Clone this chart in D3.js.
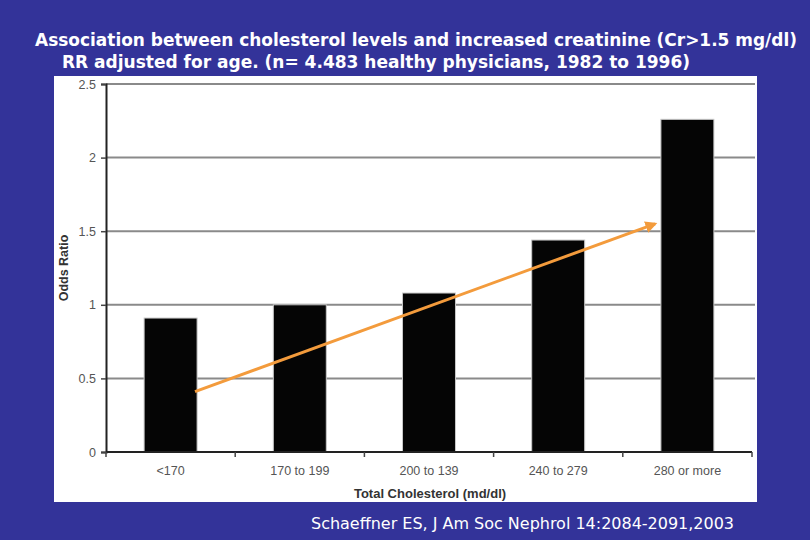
<!DOCTYPE html>
<html>
<head>
<meta charset="utf-8">
<script src="https://cdn.jsdelivr.net/npm/d3@7"></script>
<style>
  html, body { margin: 0; padding: 0; background: #333399; }
  svg { display: block; }
</style>
</head>
<body>
<div id="chart"></div>
<script>
// chart data
var categories = ["<170", "170 to 199", "200 to 139", "240 to 279", "280 or more"];
var oddsRatios = [0.91, 1.0, 1.08, 1.44, 2.26];
var yTicks = [0, 0.5, 1, 1.5, 2, 2.5];
// trend arrow: category, position inside band (0..1 of bandwidth), value
var trendCats = ["<170", "280 or more"];
var trendPos = [0.96, -0.11];
var trendVals = [0.41, 1.55];

var titleLines = [
    "Association between cholesterol levels and increased creatinine (Cr>1.5 mg/dl)",
    "RR adjusted for age. (n= 4.483 healthy physicians, 1982 to 1996)"
];
var sourceText = "Schaeffner ES, J Am Soc Nephrol 14:2084-2091,2003";

var W = 810, H = 540;
var svg = d3.select("#chart").append("svg")
    .attr("width", W)
    .attr("height", H);

svg.append("rect").attr("width", W).attr("height", H).attr("fill", "#333399");

// titles
svg.append("text")
    .attr("x", 35).attr("y", 46)
    .attr("textLength", 762).attr("lengthAdjust", "spacingAndGlyphs")
    .style("font-family", "'DejaVu Sans Condensed', 'DejaVu Sans', sans-serif")
    .style("font-weight", "bold")
    .style("font-size", "18px")
    .attr("fill", "#fff")
    .text(titleLines[0]);
svg.append("text")
    .attr("x", 62).attr("y", 68)
    .attr("textLength", 628).attr("lengthAdjust", "spacingAndGlyphs")
    .style("font-family", "'DejaVu Sans Condensed', 'DejaVu Sans', sans-serif")
    .style("font-weight", "bold")
    .style("font-size", "18px")
    .attr("fill", "#fff")
    .text(titleLines[1]);

// white chart panel
svg.append("rect")
    .attr("x", 54).attr("y", 76)
    .attr("width", 703).attr("height", 426)
    .attr("fill", "#fff");

var plot = {left: 106, right: 752, top: 84, bottom: 452};

var x = d3.scaleBand()
    .domain(categories)
    .range([plot.left, plot.right])
    .paddingInner(0.59)
    .paddingOuter(0.295);

var y = d3.scaleLinear()
    .domain([0, 2.5])
    .range([plot.bottom, plot.top]);

// gridlines
svg.append("g")
    .selectAll("line")
    .data(yTicks.filter(function(d) { return d > 0; }))
    .enter()
    .append("line")
        .attr("x1", plot.left).attr("x2", 755)
        .attr("y1", function(d) { return y(d); })
        .attr("y2", function(d) { return y(d); })
        .attr("stroke", "#8a8a8a")
        .attr("stroke-width", 2);

// bars
svg.append("g")
    .selectAll("rect")
    .data(oddsRatios)
    .enter()
    .append("rect")
        .attr("x", function(d, i) { return x(categories[i]); })
        .attr("y", function(d) { return y(d); })
        .attr("width", x.bandwidth())
        .attr("height", function(d) { return y(0) - y(d); })
        .attr("fill", "#050505")
        .attr("stroke", "#c8c8c8")
        .attr("stroke-width", 1);

// y axis
var yAxis = svg.append("g")
    .attr("transform", "translate(" + plot.left + ",0)")
    .call(d3.axisLeft(y).tickValues(yTicks).tickFormat(d3.format("")).tickSize(5).tickPadding(5));
yAxis.select(".domain").attr("stroke", "#222").attr("stroke-width", 2);
yAxis.selectAll(".tick line").attr("stroke", "#444").attr("stroke-width", 1.5);
yAxis.selectAll(".tick text")
    .attr("fill", "#555")
    .style("font-family", "'Liberation Sans', Arial, sans-serif")
    .style("font-size", "12.5px");

// x axis (category boundary ticks)
var xAxisG = svg.append("g");
xAxisG.append("line")
    .attr("x1", plot.left).attr("x2", plot.right)
    .attr("y1", plot.bottom).attr("y2", plot.bottom)
    .attr("stroke", "#222").attr("stroke-width", 2);
var step = x.step();
var bounds = categories.map(function(c) { return x(c) - x.paddingInner() * step / 2; });
bounds.push(bounds[bounds.length - 1] + step);
xAxisG.selectAll("line.bt")
    .data(bounds)
    .enter()
    .append("line")
        .attr("class", "bt")
        .attr("x1", function(d) { return d; }).attr("x2", function(d) { return d; })
        .attr("y1", plot.bottom).attr("y2", plot.bottom + 5)
        .attr("stroke", "#444").attr("stroke-width", 1.5);
xAxisG.selectAll("text")
    .data(categories)
    .enter()
    .append("text")
        .attr("x", function(d) { return x(d) + x.bandwidth() / 2; })
        .attr("y", 475)
        .attr("text-anchor", "middle")
        .attr("fill", "#555")
        .style("font-family", "'Liberation Sans', Arial, sans-serif")
        .style("font-size", "12.5px")
        .text(function(d) { return d; });

// axis titles
svg.append("text")
    .attr("x", 430).attr("y", 498)
    .attr("text-anchor", "middle")
    .attr("fill", "#333")
    .style("font-family", "'Liberation Sans', Arial, sans-serif")
    .style("font-weight", "bold")
    .style("font-size", "13px")
    .text("Total Cholesterol (md/dl)");
svg.append("text")
    .attr("transform", "translate(68," + 268 + ") rotate(-90)")
    .attr("text-anchor", "middle")
    .attr("fill", "#333")
    .style("font-family", "'Liberation Sans', Arial, sans-serif")
    .style("font-weight", "bold")
    .style("font-size", "12.5px")
    .text("Odds Ratio");

// trend arrow
var defs = svg.append("defs");
defs.append("marker")
    .attr("id", "arrowhead")
    .attr("viewBox", "0 0 10 10")
    .attr("refX", 8).attr("refY", 5)
    .attr("markerWidth", 4).attr("markerHeight", 4)
    .attr("orient", "auto")
    .append("path")
        .attr("d", "M0,0 L10,5 L0,10 z")
        .attr("fill", "#f39b3c");

var trendPts = trendCats.map(function(c, i) {
    return [x(c) + trendPos[i] * x.bandwidth(), y(trendVals[i])];
});
svg.append("path")
    .attr("d", d3.line()(trendPts))
    .attr("stroke", "#f39b3c")
    .attr("stroke-width", 3)
    .attr("fill", "none")
    .attr("marker-end", "url(#arrowhead)");

// source
svg.append("text")
    .attr("x", 311).attr("y", 529)
    .attr("textLength", 423).attr("lengthAdjust", "spacingAndGlyphs")
    .attr("fill", "#fff")
    .style("font-family", "'DejaVu Sans Condensed', 'DejaVu Sans', sans-serif")
    .style("font-size", "16px")
    .text(sourceText);
</script>
</body>
</html>
